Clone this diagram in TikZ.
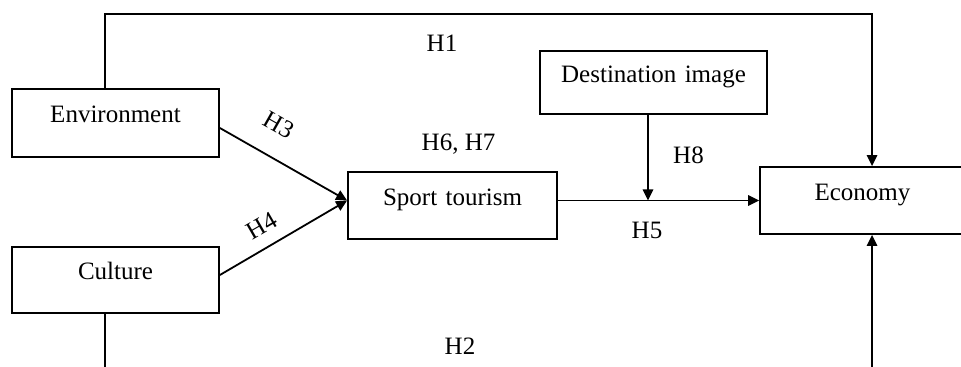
\documentclass[tikz,border=0pt]{standalone}
\usepackage{fontspec}
\setmainfont{Liberation Serif}
\usetikzlibrary{arrows.meta}
\begin{document}
\begin{tikzpicture}[x=0.5pt,y=-0.5pt,
  box/.style 2 args={draw, line width=0.9pt, inner sep=0pt, text width=#1, align=center, text height=#2, text depth=#2, font=\fontsize{12.5}{15}\selectfont},
  lab/.style={font=\fontsize{12.5}{15}\selectfont, inner sep=0pt},
  conn/.style={line width=0.9pt},
  arr/.style={conn, -{Triangle[length=5.5pt,width=5.2pt]}}]
\useasboundingbox (0,0) rectangle (961,367);
\clip (0,0) rectangle (961,367);
\fill[white] (0,0) rectangle (961,367);

\node[box={103.5pt}{17pt}] (env) at (115.5,123) {Environment};
\node[box={103.5pt}{16.5pt}] (cul) at (115.5,280) {Culture};
\node[box={104.5pt}{16.75pt}] (sport) at (452.5,205.5) {Sport tourism};
\node[box={113.5pt}{15.75pt}] (dest) at (653.5,82.5) {Destination image};
\node[box={102.5pt}{16.75pt}] (eco) at (862.5,200.5) {Economy};

\coordinate (t1) at (105,14);
\coordinate (t2) at (872,14);
\coordinate (b1) at (105,385);
\coordinate (b2) at (872,385);
\coordinate (sin) at ([yshift=2.5pt]sport.west);

\draw[arr] (env.north -| t1) -- (t1) -- (t2) -- (eco.north -| t2);
\draw[arr] (cul.south -| b1) -- (b1) -- (b2) -- (eco.south -| b2);
\draw[arr] ([yshift=-2.5pt]env.east) -- (sin);
\draw[arr] ([yshift=2.5pt]cul.east) -- (sin);
\draw[arr] (sport.east |- eco.west) -- (eco.west);
\draw[arr] ([xshift=-2.75pt]dest.south) -- ([xshift=-2.75pt]dest.south |- eco.west);

\node[lab] (h1) at (442,43) {H1};
\node[lab] (h2) at (460,346) {H2};
\node[lab, rotate=-29.5] (h3) at (279,125) {H3};
\node[lab, rotate=30] (h4) at (262,226) {H4};
\node[lab] (h5) at (647,230.5) {H5};
\node[lab] (h67) at (458.5,144) {H6, H7};
\node[lab] (h8) at (688.5,155) {H8};
\end{tikzpicture}
\end{document}
